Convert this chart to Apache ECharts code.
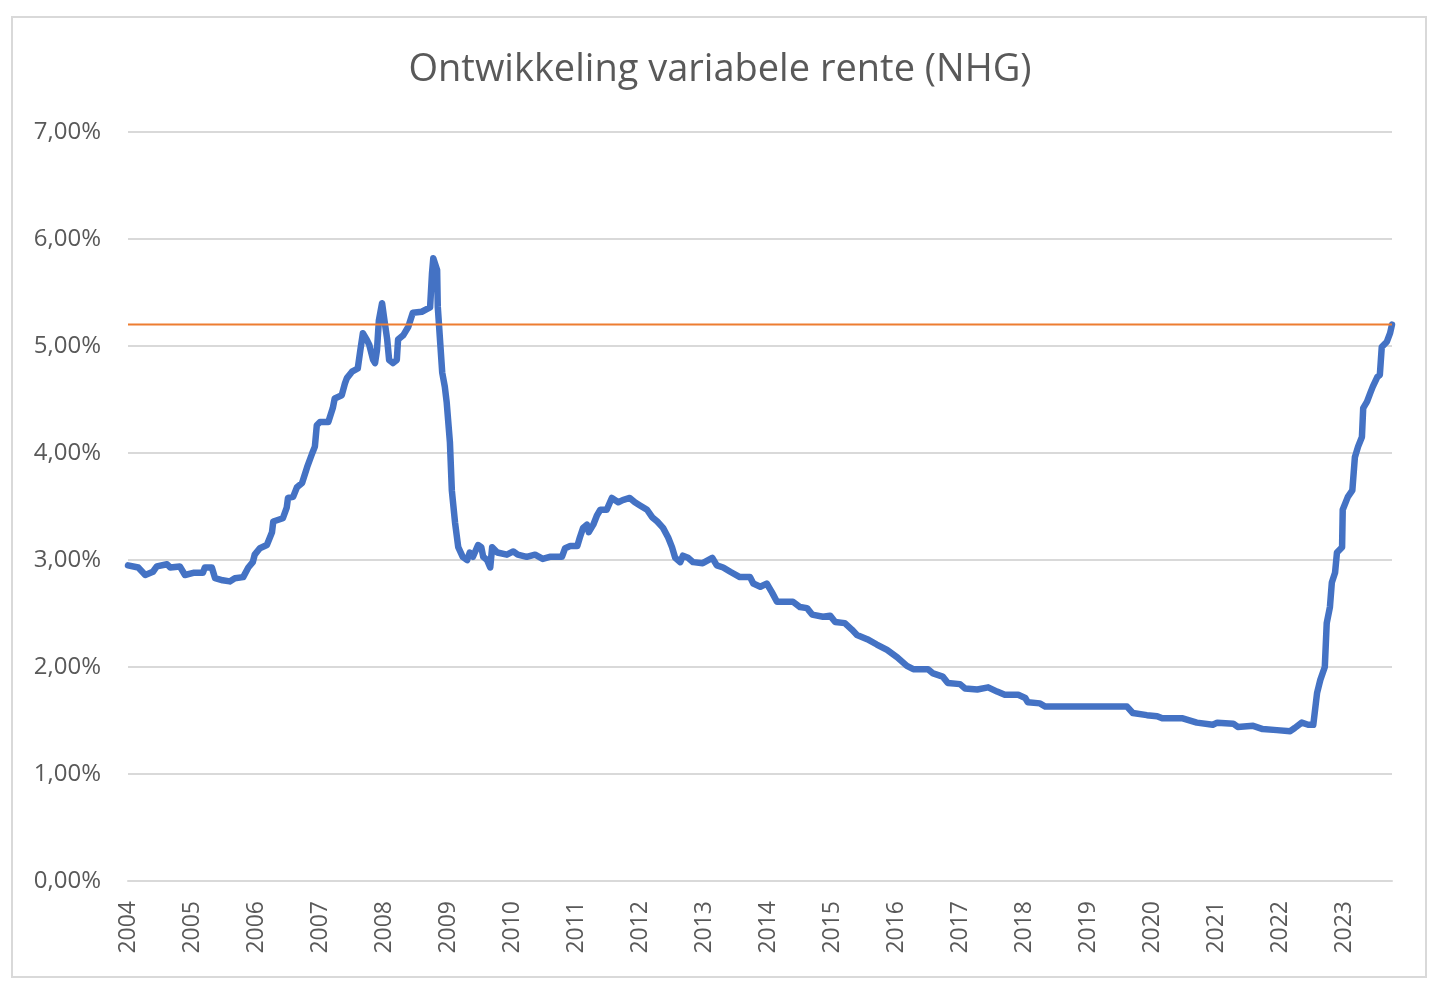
<!DOCTYPE html>
<html>
<head>
<meta charset="utf-8">
<title>Ontwikkeling variabele rente (NHG)</title>
<script src="https://cdn.jsdelivr.net/npm/echarts@6/dist/echarts.min.js"></script>
<style>
  html, body { margin: 0; padding: 0; background: #fff; }
  #chart { width: 1440px; height: 998px; }
</style>
</head>
<body>
<div id="chart"></div>
<script>
// Years as decimal fractions (2008.77 = around Oct 2008), rate in percent
const rateYears = [
  2004.00, 2004.16, 2004.27, 2004.39, 2004.45, 2004.61, 2004.66, 2004.81, 2004.89,
  2005.02, 2005.17, 2005.20, 2005.31, 2005.36, 2005.48, 2005.59, 2005.67, 2005.80, 2005.88, 2005.95, 2005.98,
  2006.06, 2006.17, 2006.25, 2006.27, 2006.42, 2006.48, 2006.50, 2006.58, 2006.64, 2006.72, 2006.80, 2006.88, 2006.92, 2006.95,
  2007.00, 2007.13, 2007.20, 2007.23, 2007.34, 2007.39, 2007.42, 2007.50, 2007.59, 2007.63, 2007.67, 2007.73, 2007.77, 2007.83, 2007.86, 2007.89, 2007.92, 2007.97,
  2008.00, 2008.05, 2008.08, 2008.14, 2008.20, 2008.22, 2008.30, 2008.38, 2008.45, 2008.59, 2008.72, 2008.75, 2008.77, 2008.83, 2008.84, 2008.91, 2008.95, 2008.98,
  2009.03, 2009.06, 2009.11, 2009.16, 2009.23, 2009.30, 2009.34, 2009.39, 2009.47, 2009.52, 2009.55, 2009.61, 2009.66, 2009.69, 2009.77, 2009.92,
  2010.02, 2010.09, 2010.23, 2010.36, 2010.48, 2010.59, 2010.78, 2010.83, 2010.91,
  2011.02, 2011.06, 2011.11, 2011.17, 2011.20, 2011.27, 2011.33, 2011.38, 2011.48, 2011.56, 2011.66, 2011.73, 2011.84, 2011.92,
  2012.00, 2012.11, 2012.19, 2012.27, 2012.36, 2012.44, 2012.50, 2012.55, 2012.63, 2012.67, 2012.75, 2012.83, 2012.98,
  2013.13, 2013.20, 2013.30, 2013.41, 2013.56, 2013.72, 2013.77, 2013.88, 2013.98,
  2014.06, 2014.14, 2014.39, 2014.50, 2014.61, 2014.69, 2014.86, 2014.97,
  2015.05, 2015.20, 2015.31, 2015.39, 2015.55, 2015.70, 2015.86,
  2016.02, 2016.17, 2016.27, 2016.50, 2016.58, 2016.73, 2016.81,
  2017.00, 2017.08, 2017.27, 2017.44, 2017.58, 2017.70, 2017.91,
  2018.02, 2018.06, 2018.25, 2018.33,
  2019.61, 2019.70, 2019.92,
  2020.08, 2020.16, 2020.48, 2020.70, 2020.95,
  2021.02, 2021.27, 2021.34, 2021.58, 2021.73, 2021.95,
  2022.16, 2022.23, 2022.34, 2022.44, 2022.52, 2022.58, 2022.63, 2022.70, 2022.73, 2022.78, 2022.81, 2022.86, 2022.89, 2022.97, 2022.98,
  2023.06, 2023.13, 2023.17, 2023.22, 2023.28, 2023.30, 2023.36, 2023.41, 2023.45, 2023.52, 2023.56, 2023.59, 2023.67, 2023.72, 2023.75
];

const rates = [
  2.95, 2.93, 2.86, 2.89, 2.94, 2.96, 2.93, 2.94, 2.86,
  2.88, 2.88, 2.93, 2.93, 2.83, 2.81, 2.80, 2.83, 2.84, 2.93, 2.98, 3.05,
  3.11, 3.14, 3.26, 3.36, 3.39, 3.49, 3.58, 3.59, 3.68, 3.72, 3.87, 4.00, 4.06, 4.26,
  4.29, 4.29, 4.42, 4.51, 4.54, 4.65, 4.70, 4.76, 4.79, 4.96, 5.12, 5.06, 5.01, 4.87, 4.84, 4.96, 5.24, 5.40,
  5.27, 5.06, 4.87, 4.84, 4.87, 5.06, 5.10, 5.18, 5.31, 5.32, 5.36, 5.68, 5.82, 5.71, 5.37, 4.75, 4.62, 4.47,
  4.10, 3.65, 3.35, 3.12, 3.03, 3.00, 3.07, 3.03, 3.14, 3.12, 3.03, 3.00, 2.93, 3.12, 3.07, 3.05,
  3.08, 3.05, 3.03, 3.05, 3.01, 3.03, 3.03, 3.11, 3.13,
  3.13, 3.21, 3.30, 3.33, 3.26, 3.33, 3.42, 3.47, 3.47, 3.58, 3.54, 3.56, 3.58, 3.54,
  3.51, 3.47, 3.40, 3.36, 3.30, 3.21, 3.12, 3.02, 2.98, 3.04, 3.02, 2.98, 2.97,
  3.02, 2.95, 2.93, 2.89, 2.84, 2.84, 2.78, 2.75, 2.78,
  2.70, 2.61, 2.61, 2.56, 2.55, 2.49, 2.47, 2.48,
  2.42, 2.41, 2.35, 2.30, 2.26, 2.21, 2.16,
  2.09, 2.01, 1.98, 1.98, 1.94, 1.91, 1.85,
  1.84, 1.80, 1.79, 1.81, 1.77, 1.74, 1.74,
  1.71, 1.67, 1.66, 1.63,
  1.63, 1.57, 1.55,
  1.54, 1.52, 1.52, 1.48, 1.46,
  1.48, 1.47, 1.44, 1.45, 1.42, 1.41,
  1.40, 1.43, 1.48, 1.46, 1.46, 1.76, 1.88, 2.00, 2.41, 2.56, 2.79, 2.88, 3.07, 3.12, 3.47,
  3.59, 3.65, 3.96, 4.06, 4.15, 4.42, 4.48, 4.56, 4.62, 4.71, 4.73, 4.99, 5.04, 5.12, 5.20
];

// Horizontal reference level (current rate)
const referenceRate = 5.2;

const xStart = 2004;
const xEnd = 2023.75;
const yTicks = [0, 1, 2, 3, 4, 5, 6, 7];

const textColor = '#595959';
const gridColor = '#d9d9d9';
const fontFamily = '"Open Sans", "Noto Sans", sans-serif';

const chart = echarts.init(document.getElementById('chart'));

const option = {
  animation: false,
  backgroundColor: '#ffffff',
  title: {
    text: 'Ontwikkeling variabele rente (NHG)',
    left: 'center',
    top: 46,
    textStyle: {
      color: textColor,
      fontFamily: fontFamily,
      fontSize: 38,
      fontWeight: 'normal'
    }
  },
  graphic: [
    {
      type: 'rect',
      shape: { x: 12, y: 17, width: 1414, height: 960 },
      style: { fill: 'none', stroke: gridColor, lineWidth: 2 },
      silent: true,
      z: -1
    }
  ],
  grid: {
    left: 128,
    right: 48,
    top: 132,
    bottom: 117,
    containLabel: false
  },
  xAxis: {
    type: 'value',
    min: xStart,
    max: xEnd,
    interval: 1,
    axisLine: { show: true, lineStyle: { color: gridColor, width: 2 } },
    axisTick: { show: false },
    splitLine: { show: false },
    axisLabel: {
      rotate: 90,
      margin: 20,
      showMaxLabel: false,
      color: textColor,
      fontFamily: fontFamily,
      fontSize: 23,
      formatter: v => String(Math.round(v))
    }
  },
  yAxis: {
    type: 'value',
    min: yTicks[0],
    max: yTicks[yTicks.length - 1],
    interval: 1,
    axisLine: { show: false },
    axisTick: { show: false },
    splitLine: { show: true, lineStyle: { color: gridColor, width: 2 } },
    axisLabel: {
      margin: 27,
      color: textColor,
      fontFamily: fontFamily,
      fontSize: 24,
      formatter: v => v.toFixed(2).replace('.', ',') + '%'
    }
  },
  series: [
    {
      name: 'Variabele rente',
      type: 'line',
      showSymbol: false,
      data: rateYears.map((t, i) => [t, rates[i]]),
      lineStyle: { color: '#4472C4', width: 6.5, join: 'round', cap: 'round' },
      itemStyle: { color: '#4472C4' },
      z: 3
    },
    {
      name: 'Huidige rente',
      type: 'line',
      showSymbol: false,
      data: [[xStart, referenceRate], [xEnd, referenceRate]],
      lineStyle: { color: '#ED7D31', width: 2 },
      itemStyle: { color: '#ED7D31' },
      z: 4
    }
  ]
};

chart.setOption(option);
</script>
</body>
</html>
